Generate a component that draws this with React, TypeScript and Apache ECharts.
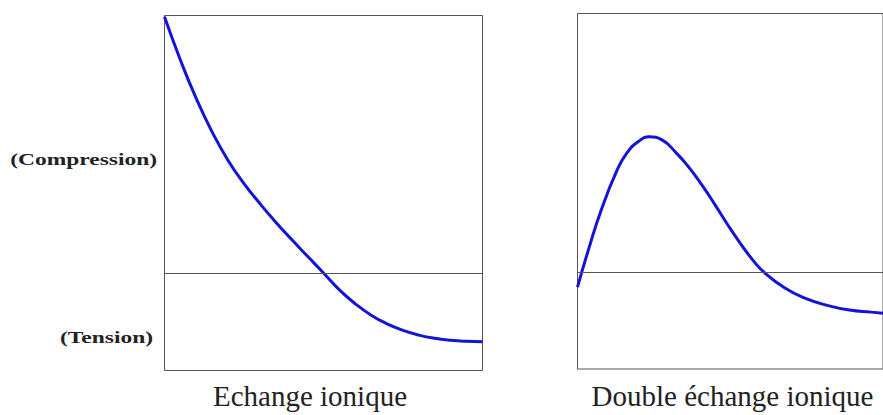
import React, { useEffect, useRef } from "react";
import * as echarts from "echarts";

// Left panel: "Echange ionique" (x: depth 0..100, y: stress, arbitrary units)
const leftX = [0, 5, 10, 15, 20, 25, 30, 35, 40, 45, 50, 55, 60, 65, 70, 75, 80, 85, 90, 95, 100];
const leftY = [99.5, 82.7, 67.7, 54.7, 43.7, 34.7, 26.95, 19.7, 12.95, 6.45, 0, -6.6, -12.0, -16.4, -19.8, -22.3, -24.15, -25.4, -26.15, -26.55, -26.7];

// Right panel: "Double échange ionique"
const rightX = [0, 3.55, 7.77, 12.99, 16.13, 19.81, 23.49, 27.67, 32.39, 36.48, 40.88, 44.97, 49.06, 53.46, 57.55, 61.0, 67.9, 74.2, 81.8, 89.0, 96.2, 100];
const rightY = [-5.8, 8.5, 24.0, 39.5, 46.0, 50.4, 52.3, 51.1, 46.0, 40.5, 33.4, 26.1, 18.5, 10.8, 4.4, 0, -6.2, -10.0, -12.9, -14.7, -15.5, -15.9];

const titles = ["Echange ionique", "Double échange ionique"];
const stressLabels = ["(Compression)", "(Tension)"];

const LINE_COLOR = "#1414d4";
const BORDER = "#555";

export default function App() {
  const ref = useRef<HTMLDivElement>(null);

  useEffect(() => {
    if (!ref.current) return;
    const chart = echarts.init(ref.current, null, { renderer: "svg" });
    const zeroLine = {
      silent: true,
      symbol: ["none", "none"],
      label: { show: false },
      lineStyle: { color: BORDER, width: 1, type: "solid" },
      data: [{ yAxis: 0 }],
    };
    chart.setOption({
      animation: false,
      grid: [
        { left: 164.5, top: 15.5, width: 318, height: 355, show: true, borderColor: BORDER, borderWidth: 1, backgroundColor: "transparent" },
        { left: 577.5, top: 13.5, width: 318, height: 355.5, show: true, borderColor: BORDER, borderWidth: 1, backgroundColor: "transparent" },
      ],
      xAxis: [
        { type: "value", gridIndex: 0, min: 0, max: 100, show: false },
        { type: "value", gridIndex: 1, min: 0, max: 100, show: false },
      ],
      yAxis: [
        { type: "value", gridIndex: 0, min: -37.9, max: 100, show: false },
        { type: "value", gridIndex: 1, min: -37.5, max: 100, show: false },
      ],
      series: [
        {
          type: "line",
          xAxisIndex: 0,
          yAxisIndex: 0,
          data: leftX.map((x, i) => [x, leftY[i]]),
          smooth: 0.5,
          showSymbol: false,
          lineStyle: { color: LINE_COLOR, width: 3 },
          markLine: zeroLine,
        },
        {
          type: "line",
          xAxisIndex: 1,
          yAxisIndex: 1,
          data: rightX.map((x, i) => [x, rightY[i]]),
          smooth: 0.5,
          showSymbol: false,
          lineStyle: { color: LINE_COLOR, width: 3 },
          markLine: zeroLine,
        },
      ],
      graphic: [
        {
          type: "text",
          x: 157,
          y: 159,
          scaleX: 1.38,
          style: {
            text: stressLabels[0],
            font: "bold 17px 'Liberation Serif'",
            fill: "#222",
            textAlign: "right",
            textVerticalAlign: "middle",
          },
        },
        {
          type: "text",
          x: 153,
          y: 337,
          scaleX: 1.38,
          style: {
            text: stressLabels[1],
            font: "bold 17px 'Liberation Serif'",
            fill: "#222",
            textAlign: "right",
            textVerticalAlign: "middle",
          },
        },
        {
          type: "text",
          x: 310,
          y: 396,
          style: {
            text: titles[0],
            font: "29px 'Liberation Serif'",
            fill: "#222",
            textAlign: "center",
            textVerticalAlign: "middle",
          },
        },
        {
          type: "text",
          x: 732.5,
          y: 396,
          style: {
            text: titles[1],
            font: "29px 'Liberation Serif'",
            fill: "#222",
            textAlign: "center",
            textVerticalAlign: "middle",
          },
        },
      ],
    });
    return () => chart.dispose();
  }, []);

  return (
    <div
      ref={ref}
      style={{ position: "fixed", left: 0, top: 0, width: 883, height: 415, background: "#fff" }}
    />
  );
}
